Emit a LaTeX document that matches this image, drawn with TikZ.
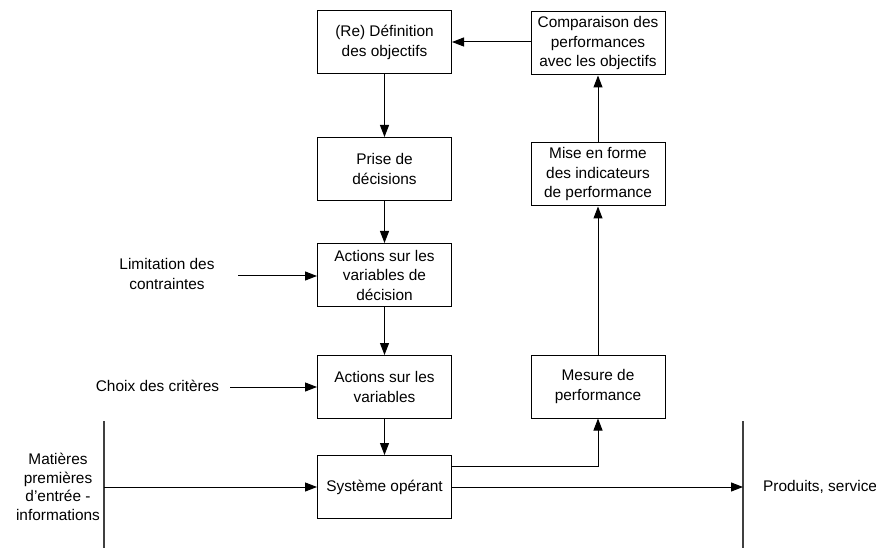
\documentclass[tikz,border=0pt]{standalone}
\usepackage{fontspec}
\setmainfont{Liberation Sans}
\usetikzlibrary{arrows.meta}
\begin{document}
\begin{tikzpicture}[x=1pt,y=-1pt,
  font=\fontsize{15.4}{19.5}\selectfont,
  box/.style={draw=black, line width=1pt, minimum width=134pt, minimum height=63pt, align=center, inner sep=0pt},
  lbl/.style={align=center, inner sep=0pt},
  conn/.style={line width=1pt, -{Triangle[length=12pt,width=9pt]}},
  wall/.style={draw=black!75, line width=1.2pt}]
\useasboundingbox (0,0) rectangle (876,548);
\node[box] (def) at (384.5,42.5) {(Re) Définition\\des objectifs};
\node[box] (comp) at (598,43.5) {Comparaison des\\performances\\avec les objectifs};
\node[box] (prise) at (384.5,169) {Prise de\\décisions};
\node[box] (forme) at (598,174.5) {Mise en forme\\des indicateurs\\de performance};
\node[box] (actdec) at (384.5,275) {Actions sur les\\variables de\\décision};
\node[box] (actvar) at (384.5,387) {Actions sur les\\variables};
\node[box] (mesure) at (598,386.5) {Mesure de\\performance};
\node[box] (sys) at (384.5,487) {Système opérant};

\node[lbl] (lim) at (167,274) {Limitation des\\contraintes};
\node[lbl] (choix) at (157.5,386) {Choix des critères};
\node[lbl, font=\fontsize{15.4}{18.5}\selectfont] (mat) at (58,487) {Matières\\premières\\d’entrée -\\informations};
\node[lbl, anchor=west] (prod) at (763,487) {Produits, service};

\coordinate (wlt) at (104,421);
\coordinate (wlb) at (104,548);
\coordinate (wrt) at (743,421);
\coordinate (wrb) at (743,548);
\draw[wall] (wlt) -- (wlb);
\draw[wall] (wrt) -- (wrb);

\coordinate (limS) at (238,276);
\coordinate (choixS) at (230,387);
\coordinate (inS) at (104,487);
\coordinate (outE) at (743,487);

\draw[conn] (comp.west |- 0,42) -- (def.east |- 0,42);
\draw[conn] (def) -- (prise);
\draw[conn] (prise) -- (actdec);
\draw[conn] (actdec) -- (actvar);
\draw[conn] (actvar) -- (sys);
\draw[conn] (limS) -- (actdec.west |- limS);
\draw[conn] (choixS) -- (actvar.west |- choixS);
\draw[conn] (inS) -- (sys.west |- inS);
\draw[conn] (sys.east |- outE) -- (outE);
\draw[conn] (sys.east |- 0,466) -| (mesure.south);
\draw[conn] (mesure) -- (forme);
\draw[conn] (forme) -- (comp);
\end{tikzpicture}
\end{document}
